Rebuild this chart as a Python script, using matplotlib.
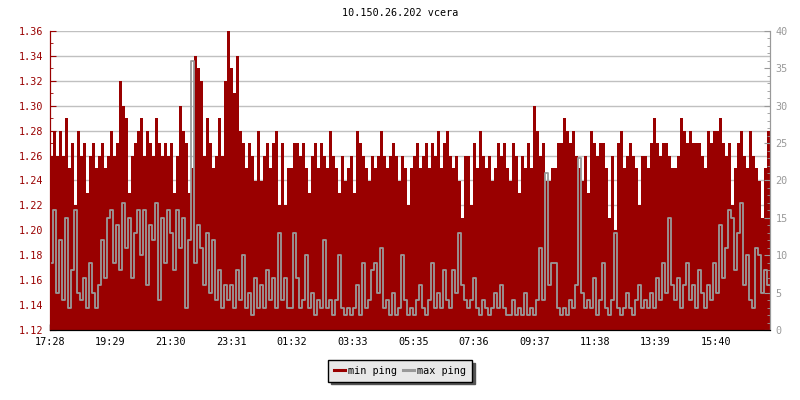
import matplotlib
matplotlib.use("Agg")
from matplotlib import pyplot as plt
from matplotlib.ticker import MultipleLocator
import numpy as np

# sample every 6 minutes starting at 17:28
step_min = 6

min_ping = [
    1.26, 1.28, 1.26, 1.28, 1.26, 1.29, 1.25, 1.27, 1.22, 1.28,
    1.26, 1.27, 1.23, 1.26, 1.27, 1.25, 1.26, 1.27, 1.25, 1.26,
    1.28, 1.26, 1.27, 1.32, 1.30, 1.29, 1.23, 1.26, 1.27, 1.28,
    1.29, 1.26, 1.28, 1.27, 1.26, 1.29, 1.27, 1.26, 1.27, 1.26,
    1.27, 1.23, 1.26, 1.30, 1.28, 1.27, 1.23, 1.25, 1.34, 1.33,
    1.32, 1.26, 1.29, 1.27, 1.25, 1.26, 1.29, 1.26, 1.32, 1.36,
    1.33, 1.31, 1.34, 1.28, 1.27, 1.25, 1.27, 1.26, 1.24, 1.28,
    1.24, 1.26, 1.27, 1.25, 1.27, 1.28, 1.22, 1.27, 1.22, 1.25,
    1.25, 1.27, 1.27, 1.26, 1.27, 1.25, 1.23, 1.26, 1.27, 1.25,
    1.27, 1.26, 1.25, 1.28, 1.26, 1.25, 1.23, 1.26, 1.24, 1.25,
    1.26, 1.23, 1.28, 1.27, 1.26, 1.25, 1.24, 1.26, 1.25, 1.26,
    1.28, 1.26, 1.25, 1.26, 1.27, 1.26, 1.24, 1.26, 1.25, 1.22,
    1.25, 1.26, 1.27, 1.25, 1.26, 1.27, 1.25, 1.27, 1.26, 1.28,
    1.25, 1.27, 1.28, 1.26, 1.25, 1.26, 1.24, 1.21, 1.26, 1.26,
    1.22, 1.27, 1.25, 1.28, 1.26, 1.25, 1.26, 1.24, 1.25, 1.27,
    1.26, 1.27, 1.25, 1.24, 1.27, 1.26, 1.23, 1.26, 1.25, 1.27,
    1.25, 1.30, 1.28, 1.26, 1.27, 1.24, 1.24, 1.25, 1.25, 1.27,
    1.27, 1.29, 1.28, 1.27, 1.28, 1.26, 1.25, 1.24, 1.26, 1.23,
    1.28, 1.27, 1.26, 1.27, 1.27, 1.25, 1.21, 1.26, 1.20, 1.27,
    1.28, 1.25, 1.26, 1.27, 1.26, 1.25, 1.22, 1.26, 1.26, 1.25,
    1.27, 1.29, 1.27, 1.26, 1.27, 1.27, 1.26, 1.25, 1.25, 1.26,
    1.29, 1.28, 1.27, 1.28, 1.27, 1.27, 1.27, 1.26, 1.25, 1.28,
    1.27, 1.28, 1.28, 1.29, 1.27, 1.26, 1.27, 1.22, 1.25, 1.27,
    1.28, 1.26, 1.25, 1.28, 1.26, 1.25, 1.24, 1.21, 1.25, 1.28,
]

max_ping = [
    9, 16, 5, 12, 4, 15, 3, 8, 16, 5,
    4, 7, 3, 9, 5, 3, 6, 12, 7, 15,
    16, 9, 14, 8, 17, 11, 15, 7, 13, 16,
    10, 16, 6, 14, 12, 17, 4, 15, 9, 16,
    13, 8, 16, 11, 15, 3, 12, 36, 9, 14,
    11, 6, 13, 5, 12, 4, 8, 3, 6, 4,
    6, 3, 8, 4, 10, 3, 5, 2, 7, 3,
    6, 3, 8, 4, 7, 3, 13, 4, 7, 3,
    3, 13, 7, 3, 4, 10, 3, 5, 2, 4,
    3, 12, 3, 4, 2, 4, 10, 3, 2, 3,
    2, 3, 6, 2, 9, 3, 4, 8, 9, 5,
    11, 3, 4, 2, 5, 2, 3, 10, 4, 2,
    3, 2, 4, 6, 3, 2, 4, 9, 3, 5,
    3, 8, 4, 3, 8, 5, 13, 6, 4, 3,
    4, 7, 3, 2, 4, 3, 2, 3, 5, 3,
    6, 3, 2, 2, 4, 2, 3, 2, 5, 2,
    3, 2, 4, 11, 4, 21, 6, 9, 9, 3,
    2, 3, 2, 4, 3, 6, 23, 5, 3, 4,
    3, 7, 2, 4, 9, 3, 2, 4, 13, 3,
    2, 3, 5, 3, 2, 4, 6, 3, 4, 3,
    5, 3, 7, 4, 9, 5, 15, 6, 4, 7,
    3, 6, 9, 4, 6, 3, 8, 5, 3, 6,
    4, 9, 5, 14, 7, 11, 16, 15, 8, 13,
    17, 6, 10, 4, 3, 11, 10, 5, 8, 6,
]

tick_labels = ["17:28", "19:29", "21:30", "23:31", "01:32", "03:33",
               "05:35", "07:36", "09:37", "11:38", "13:39", "15:40"]
tick_minutes = [0, 121, 242, 363, 484, 605, 727, 848, 969, 1090, 1211, 1332]

red = "#990000"
grey = "#999999"

plt.rcParams["font.family"] = ["DejaVu Sans Mono"]
plt.rcParams["font.size"] = 7.3

t = np.arange(len(min_ping)) * step_min

fig = plt.figure(figsize=(8, 4), dpi=100)
ax = fig.add_axes([50 / 800, 70 / 400, 720 / 800, 299 / 400])
ax2 = ax.twinx()

ax.set_axisbelow(True)
ax.grid(axis="y", color="#c0c0c0", linewidth=1)
ax.bar(t, np.array(min_ping) - 1.12, bottom=1.12, width=step_min, align="edge",
       color=red, linewidth=0, antialiased=False, label="min ping")
ax2.plot(t + step_min / 2, max_ping, drawstyle="steps-mid", color=grey,
         linewidth=1.3, label="max ping")

ax.set_xlim(0, 1440)
ax.set_ylim(1.12, 1.36)
ax2.set_ylim(0, 40)

ax.set_xticks(tick_minutes)
ax.set_xticklabels(tick_labels)
ax.yaxis.set_major_locator(MultipleLocator(0.02))
ax.yaxis.set_minor_locator(MultipleLocator(0.01))
ax.yaxis.set_major_formatter(lambda v, p: "%.2f" % v)
ax2.yaxis.set_major_locator(MultipleLocator(5))
ax2.yaxis.set_minor_locator(MultipleLocator(1))

ax.tick_params(axis="x", direction="in", length=4, width=1, color="black", pad=5)
ax.tick_params(axis="y", which="major", direction="in", length=4, color=red,
               labelcolor=red, pad=5)
ax.tick_params(axis="y", which="minor", direction="in", length=2.5, color=red)
ax2.tick_params(axis="y", which="major", direction="in", length=4, color=grey,
                labelcolor=grey, pad=4)
ax2.tick_params(axis="y", which="minor", direction="in", length=2.5, color=grey)

for a in (ax, ax2):
    a.spines["top"].set_visible(False)
    a.spines["left"].set_color(red)
    a.spines["right"].set_color(grey)
    a.spines["bottom"].set_color("black")

fig.text(0.5, 1 - 13 / 400, "10.150.26.202 vcera", ha="center", va="center")

h1, l1 = ax.get_legend_handles_labels()
h2, l2 = ax2.get_legend_handles_labels()
handles = [plt.Line2D([], [], color=red, lw=2.2), plt.Line2D([], [], color=grey, lw=2.2)]
fig.legend(handles, l1 + l2, loc="center", bbox_to_anchor=(0.5, 1 - 371 / 400),
           ncol=2, frameon=True, fancybox=False, edgecolor="black",
           facecolor="#e8e8e8", framealpha=1, handlelength=1.1,
           handletextpad=0.3, columnspacing=0.6, borderpad=0.55,
           shadow={"color": "#555555", "alpha": 1})

fig.savefig("out.png", dpi=100)
